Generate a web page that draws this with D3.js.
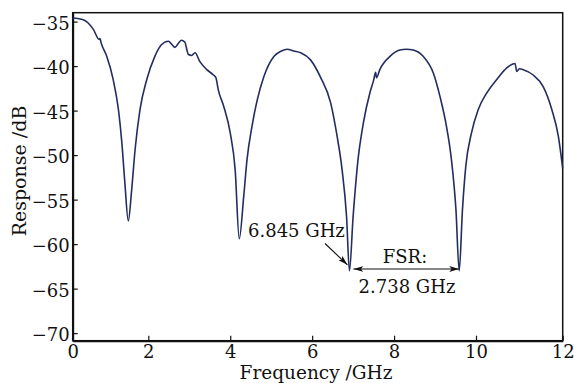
<!DOCTYPE html>
<html>
<head>
<meta charset="utf-8">
<script src="https://cdn.jsdelivr.net/npm/d3@7"></script>
<style>
  body { margin: 0; background: #fff; }
  text { font-family: "DejaVu Serif", serif; fill: #111; }
</style>
</head>
<body>
<svg id="chart" width="574" height="383"></svg>
<script>
const width = 574;
const height = 383;

const freq = [0.00, 0.28, 0.55, 0.70, 0.72, 0.76, 0.90, 1.07, 1.21, 1.30, 1.38, 1.47, 1.56, 1.65, 1.78, 1.96,
  2.16, 2.32, 2.49, 2.58, 2.65, 2.74, 2.81, 2.89, 2.98, 3.06, 3.14, 3.26, 3.43, 3.59, 3.65, 3.71, 3.84,
  4.00, 4.12, 4.22, 4.33, 4.41, 4.53, 4.66, 4.82, 5.07, 5.25, 5.39, 5.55, 5.72, 5.96, 6.20, 6.45, 6.61,
  6.73, 6.84, 6.91, 7.00, 7.12, 7.25, 7.41, 7.50, 7.55, 7.57, 7.66, 7.74, 7.90, 8.14, 8.30, 8.47, 8.71,
  8.96, 9.12, 9.28, 9.40, 9.51, 9.59, 9.67, 9.75, 9.89, 10.05, 10.25, 10.48, 10.71, 10.90, 10.94, 11.00,
  11.09, 11.32, 11.55, 11.75, 11.90, 12.00];
const resp = [-34.6, -34.8, -35.9, -37.0, -36.9, -37.5, -38.9, -41.5, -44.9, -48.6, -53.1, -57.4, -53.9, -49.4, -44.9, -41.5,
  -38.9, -37.6, -37.2, -37.6, -37.9, -37.4, -37.1, -37.3, -38.7, -38.8, -38.5, -39.5, -40.4, -41.0, -41.3, -42.7, -44.5,
  -47.5, -51.6, -59.4, -54.6, -50.5, -46.8, -43.8, -41.2, -38.9, -38.3, -38.1, -38.3, -38.5, -39.3, -41.2, -44.1, -47.9,
  -51.6, -56.9, -63.0, -56.9, -50.5, -46.4, -43.0, -41.6, -40.7, -41.3, -40.3, -39.7, -38.9, -38.2, -38.1, -38.2, -38.9,
  -40.8, -43.4, -46.8, -50.5, -56.1, -63.0, -56.1, -51.3, -47.5, -44.9, -43.0, -41.5, -40.2, -39.7, -40.6, -40.3,
  -40.4, -41.0, -42.3, -44.9, -47.9, -51.5];

const xTicks = [0, 2, 4, 6, 8, 10, 12];
const yTicks = [-35, -40, -45, -50, -55, -60, -65, -70];

// notch positions used by the annotations
const notchA = [6.91, -63.0];
const notchB = [9.59, -63.0];

const svg = d3.select("#chart");

// the printed axis is slightly stretched at the ends, so use a piecewise scale
const x = d3.scaleLinear().domain([0, 2, 10, 12]).range([72.7, 148.3, 476, 562.7]);
const y = d3.scaleLinear().domain([-70.85, -34]).range([340.7, 12.7]);

// frame
svg.append("rect")
  .attr("x", 72.7).attr("y", 12.7)
  .attr("width", 562.7 - 72.7).attr("height", 340.7 - 12.7)
  .attr("fill", "none").attr("stroke", "#111").attr("stroke-width", 1.5);

const xAxis = svg.append("g")
  .attr("transform", "translate(0,340.7)")
  .call(d3.axisBottom(x).tickValues(xTicks).tickSizeInner(-5).tickSizeOuter(0).tickPadding(5));

const yAxis = svg.append("g")
  .attr("transform", "translate(72.7,0)")
  .call(d3.axisLeft(y).tickValues(yTicks).tickSizeInner(-5).tickSizeOuter(0).tickPadding(3)
    .tickFormat(d => d3.format("")(d).replace("-", "\u2212")));

[xAxis, yAxis].forEach(g => {
  g.select(".domain").attr("stroke", "#111").attr("stroke-width", 2);
  g.selectAll(".tick line").attr("stroke", "#111").attr("stroke-width", 1.2);
  g.selectAll(".tick text").attr("font-family", "DejaVu Serif").attr("font-size", 18).attr("fill", "#111");
});
yAxis.selectAll(".tick text").attr("dy", "0.42em");

// curve
const line = d3.line()
  .x(d => x(d[0]))
  .y(d => y(d[1]))
  .curve(d3.curveMonotoneX);

svg.append("path")
  .datum(freq.map((f, i) => [f, resp[i]]))
  .attr("d", line)
  .attr("fill", "none")
  .attr("stroke", "#232d60")
  .attr("stroke-width", 1.6)
  .attr("stroke-linejoin", "round");

// arrow heads
svg.append("defs").append("marker")
  .attr("id", "arr")
  .attr("viewBox", "0 0 10 6")
  .attr("refX", 10).attr("refY", 3)
  .attr("markerWidth", 10).attr("markerHeight", 6)
  .attr("markerUnits", "userSpaceOnUse")
  .attr("orient", "auto-start-reverse")
  .append("path")
  .attr("d", "M0,0 L10,3 L0,6 L2.5,3 Z")
  .attr("fill", "#111");

// 6.845 GHz label and pointer
svg.append("text")
  .attr("x", 248).attr("y", 237)
  .attr("font-size", 18)
  .text("6.845 GHz");

svg.append("line")
  .attr("x1", 325).attr("y1", 243.5)
  .attr("x2", x(notchA[0]) - 2).attr("y2", y(notchA[1]) - 6)
  .attr("stroke", "#111").attr("stroke-width", 1.1)
  .attr("marker-end", "url(#arr)");

// FSR double arrow
const fsrY = 269;
svg.append("line")
  .attr("x1", x(notchA[0]) + 4).attr("y1", fsrY)
  .attr("x2", x(notchB[0])).attr("y2", fsrY)
  .attr("stroke", "#111").attr("stroke-width", 1.1)
  .attr("marker-start", "url(#arr)")
  .attr("marker-end", "url(#arr)");

svg.append("text")
  .attr("x", 405).attr("y", 263)
  .attr("text-anchor", "middle")
  .attr("font-size", 18)
  .text("FSR:");

svg.append("text")
  .attr("x", 407).attr("y", 293)
  .attr("text-anchor", "middle")
  .attr("font-size", 18)
  .text("2.738 GHz");

// axis titles
svg.append("text")
  .attr("x", 316).attr("y", 379)
  .attr("text-anchor", "middle")
  .attr("font-size", 18.5)
  .text("Frequency /GHz");

svg.append("text")
  .attr("transform", "translate(26,171) rotate(-90)")
  .attr("text-anchor", "middle")
  .attr("font-size", 19)
  .text("Response /dB");
</script>
</body>
</html>
